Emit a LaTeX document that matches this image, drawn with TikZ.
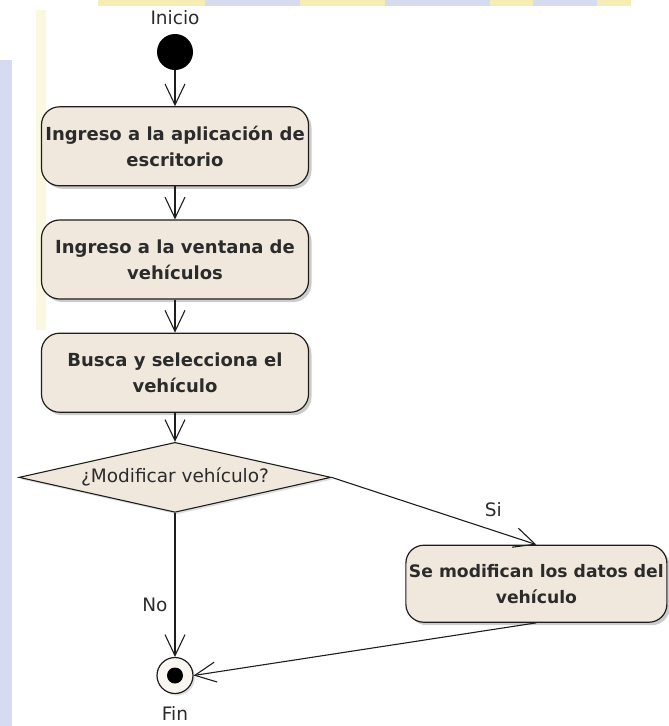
\documentclass[tikz,border=0pt]{standalone}
\usepackage{fontspec}
\setmainfont{DejaVu Sans}
\usepackage{tikz}
\usetikzlibrary{arrows.meta,positioning,shapes.geometric,shadows}
\definecolor{actfill}{HTML}{F0E8DC}
\definecolor{actline}{HTML}{1E1E1E}
\definecolor{inktext}{HTML}{2B2B2B}
\definecolor{marklilac}{HTML}{D6DBF0}
\definecolor{markyellow}{HTML}{F6EDB4}
\tikzset{
    activity/.style={rectangle, rounded corners=18pt, draw=actline, line width=1.2pt,
        fill=actfill, minimum width=267pt, minimum height=79pt,
        align=center, inner sep=0pt, text=inktext,
        font=\bfseries\fontsize{18}{26}\selectfont,
        drop shadow={shadow xshift=3pt, shadow yshift=-3pt, fill=black!40}},
    decision/.style={diamond, draw=actline, line width=1.1pt, fill=actfill,
        aspect=4.46, minimum width=312pt, minimum height=70pt, inner sep=0pt,
        text=inktext, font=\fontsize{18.5}{22}\selectfont,
        drop shadow={shadow xshift=2pt, shadow yshift=-2pt, fill=black!25}},
    startdot/.style={circle, fill=black, minimum size=36pt, inner sep=0pt},
    enddot/.style={circle, draw=actline, line width=1.2pt, fill=actfill!40,
        minimum size=36pt, inner sep=0pt,
        drop shadow={shadow xshift=2pt, shadow yshift=-2pt, fill=black!25},
        path picture={\fill[black] (path picture bounding box.center) circle (8pt);}},
    tag/.style={font=\fontsize{18.5}{22}\selectfont, text=inktext, inner sep=1pt},
    flow/.style={-{Straight Barb[length=21pt, width=20pt]}, line width=1.1pt, draw=actline}
}

\begin{document}
\begin{tikzpicture}[x=1pt, y=-1pt, node distance=33pt]
    \useasboundingbox (0,0) rectangle (669,726);
    \fill[marklilac] (0,60) rectangle (12,726);
    \fill[markyellow!40] (36,10) rectangle (46,330);
    \fill[markyellow] (98,0) rectangle (205,6);
    \fill[marklilac] (205,0) rectangle (300,6);
    \fill[markyellow] (300,0) rectangle (385,6);
    \fill[marklilac] (385,0) rectangle (490,6);
    \fill[markyellow] (490,0) rectangle (533,6);
    \fill[marklilac] (533,0) rectangle (597,6);
    \fill[markyellow] (597,0) rectangle (631,6);

    \node[startdot, label={[tag, label distance=8pt]above:Inicio}] (start) at (175,52) {};
    \node[activity, below=36pt of start] (app) {Ingreso a la aplicación de\\escritorio};
    \node[activity, below=of app] (window) {Ingreso a la ventana de\\vehículos};
    \node[activity, below=of window] (select) {Busca y selecciona el\\vehículo};
    \node[decision, below=29pt of select] (modifyq) {¿Modificar vehículo?};
    \node[activity, minimum width=261pt, minimum height=77pt,
        font=\bfseries\fontsize{17.2}{26}\selectfont,
        below right=49.5pt and 152pt of modifyq] (change) {Se modifican los datos del\\vehículo};
    \node[enddot, below=144pt of modifyq, label={[tag, label distance=11pt]below:Fin}] (end) {};
    \draw[flow] (start) -- (app);
    \draw[flow] (app) -- (window);
    \draw[flow] (window) -- (select);
    \draw[flow] (select) -- (modifyq);
    \draw[flow] (modifyq.east) -- node[tag, above=12pt, pos=0.79]{Si} (change.north);
    \draw[flow] (modifyq) -- node[tag, left=6pt, pos=0.64]{No} (end);
    \draw[flow] (change.south) -- (end.east);
\end{tikzpicture}
\end{document}
